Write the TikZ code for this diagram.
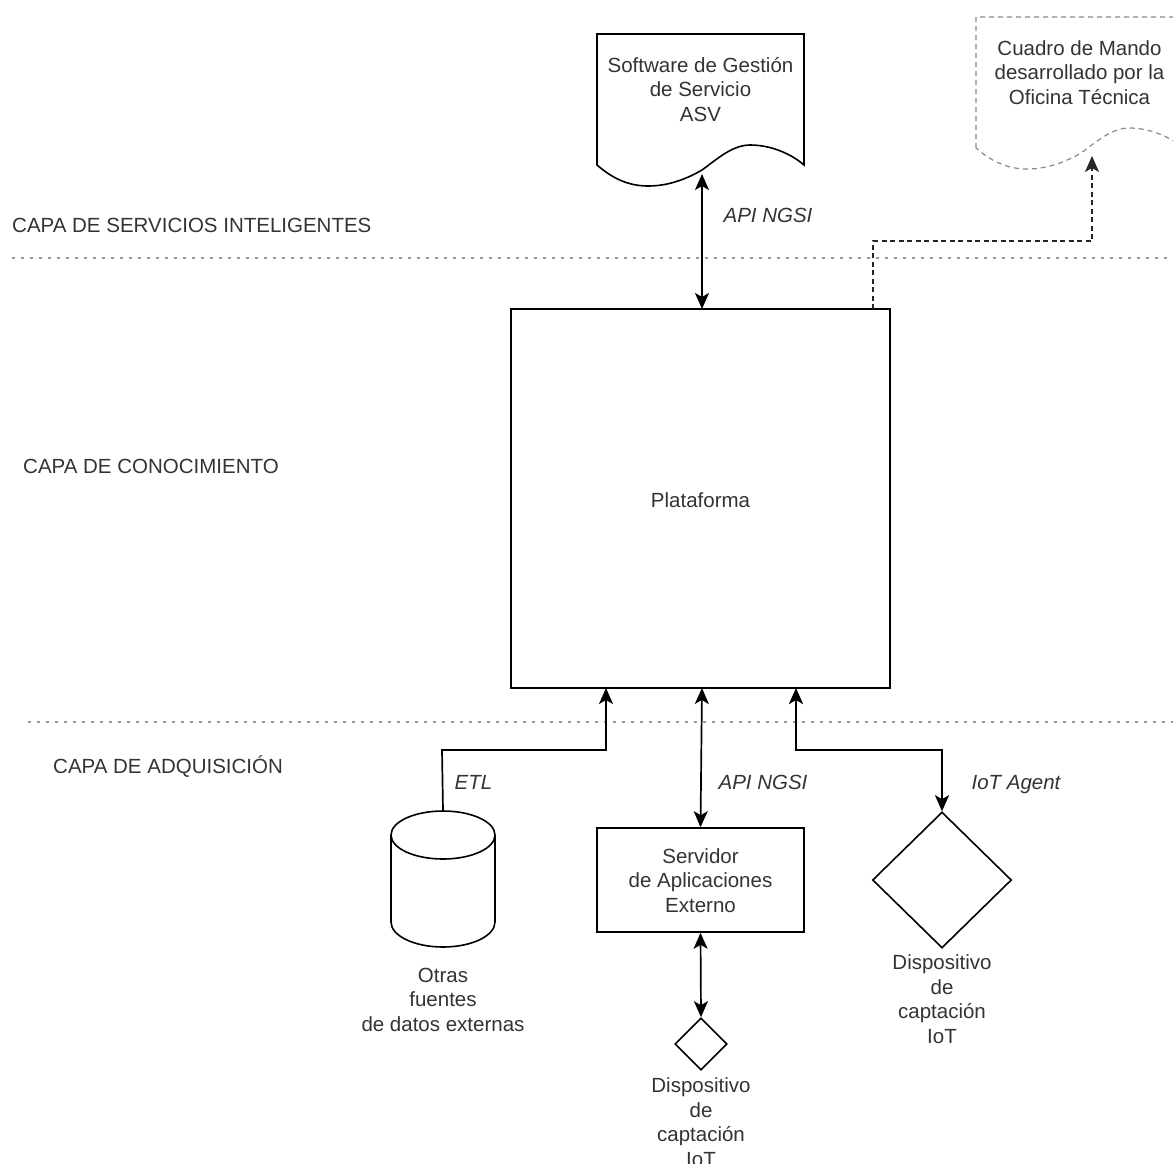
\documentclass[tikz,border=0pt]{standalone}
\usepackage{fontspec}
\setmainfont{Liberation Sans}
\usetikzlibrary{arrows.meta,shapes.geometric}
\definecolor{txt}{HTML}{333333}
\definecolor{dotc}{HTML}{9A9A9A}
\definecolor{dashc}{HTML}{8A8A8A}
\begin{document}
\begin{tikzpicture}[x=1pt,y=-1pt,
  >={Stealth[length=16pt,width=14pt,inset=4pt]},
  every node/.style={font=\fontsize{20.5}{24.5}\selectfont, text=txt},
  lbl/.style={inner sep=0pt},
  ital/.style={inner sep=0pt, anchor=base, font=\fontsize{20.5}{24.5}\selectfont\itshape},
  ml/.style={inner sep=0pt, align=center, anchor=base},
  shapeline/.style={line width=1.6pt, draw=black},
  boxnode/.style={draw=black, line width=1.6pt, rectangle, inner sep=0pt, align=center},
  dia/.style={draw=black, line width=1.6pt, diamond, inner sep=0pt},
  conn/.style={line width=1.7pt, draw=black},
  boldconn/.style={line width=2.8pt, draw=black},
  dashconn/.style={line width=1.7pt, draw=black!85, dash pattern=on 5pt off 3.5pt},
  layerline/.style={line width=1.4pt, draw=dotc, dash pattern=on 2.5pt off 6.5pt},
  dashshape/.style={line width=1.2pt, draw=dashc, dash pattern=on 5pt off 4pt}
]
\useasboundingbox (0,0) rectangle (1173,1163);
\clip (0,0) rectangle (1173,1163);

% layer separators and labels
\coordinate (l1a) at (12,258);
\coordinate (l1b) at (1173,258);
\coordinate (l2a) at (28,722);
\coordinate (l2b) at (1173,722);
\draw[layerline] (l1a) -- (l1b);
\draw[layerline] (l2a) -- (l2b);
\node[lbl, anchor=base west] (capa1) at (12,232) {CAPA DE SERVICIOS INTELIGENTES};
\node[lbl, anchor=base west] (capa2) at (23,473) {CAPA DE CONOCIMIENTO};
\node[lbl, anchor=base west] (capa3) at (53,773) {CAPA DE ADQUISICIÓN};

% document shape: Software de Gestion
\draw[shapeline] (597,165) -- (597,34) -- (804,34) -- (804,165)
  .. controls (790,153) and (770,145) .. (750,145)
  .. controls (732,145) and (716,160) .. (702,170)
  .. controls (688,178) and (670,186) .. (648,186)
  .. controls (628,186) and (612,178) .. (597,165) -- cycle;
\node[ml] (swtext) at (700.5,121) {Software de Gestión\\de Servicio\\ASV};
\coordinate (swtip) at (702,174);

% dashed document shape: Cuadro de Mando
\begin{scope}[shift={(379,-17)}]
\draw[dashshape] (597,165) -- (597,34) -- (804,34) -- (804,165)
  .. controls (790,153) and (770,145) .. (750,145)
  .. controls (732,145) and (716,160) .. (702,170)
  .. controls (688,178) and (670,186) .. (648,186)
  .. controls (628,186) and (612,178) .. (597,165);
\end{scope}
\node[ml] (cmtext) at (1079.5,104) {Cuadro de Mando\\desarrollado por la\\Oficina Técnica};
\coordinate (cmtip) at (1092,156);

% platform
\node[boxnode, minimum width=379pt, minimum height=379pt] (plat) at (700.5,498.5) {};
\node[lbl, anchor=base] (plattext) at (700.5,507) {Plataforma};

% server
\node[boxnode, minimum width=207pt, minimum height=104pt] (serv) at (700.5,880) {};
\node[ml] (servtext) at (700.5,912) {Servidor\\de Aplicaciones\\Externo};

% cylinder
\draw[shapeline, fill=white] (391,835) -- (391,922) arc[start angle=180, end angle=0, x radius=52, y radius=25] -- (495,835);
\draw[shapeline] (443,835) ellipse[x radius=52, y radius=24];
\coordinate (cyltop) at (443,811);
\node[ml] (otrastext) at (443,1031) {Otras\\fuentes\\de datos externas};

% diamonds
\node[dia, minimum width=52pt, minimum height=52pt] (dsmall) at (701,1044) {};
\node[ml] (dsmalltext) at (701,1166) {Dispositivo\\de\\captación\\IoT};
\node[dia, minimum width=139pt, minimum height=136pt] (dbig) at (942,880) {};
\node[ml] (dbigtext) at (942,1043) {Dispositivo\\de\\captación\\IoT};

% connectors
\draw[conn, <->] (swtip) -- (702,309);
\node[ital] (api1) at (768,222) {API NGSI};

\coordinate (dA) at (873,309);
\draw[dashconn, ->] (dA) -- (873,241) -- (1092,241) -- (cmtip);

\draw[conn, ->] (cyltop) -- (442,750) -- (606,750) -- (606,688);
\node[ital] (etl) at (473.5,789) {ETL};

\draw[conn, <->] (702,688) -- (serv.north);
\node[ital] (api2) at (763,789) {API NGSI};

\draw[boldconn, <->] (796,688) -- (796,750) -- (942,750) -- (dbig.north);
\node[ital] (iot) at (1016,789) {IoT Agent};

\draw[conn, <->] (serv.south) -- (dsmall.north);
\end{tikzpicture}
\end{document}
